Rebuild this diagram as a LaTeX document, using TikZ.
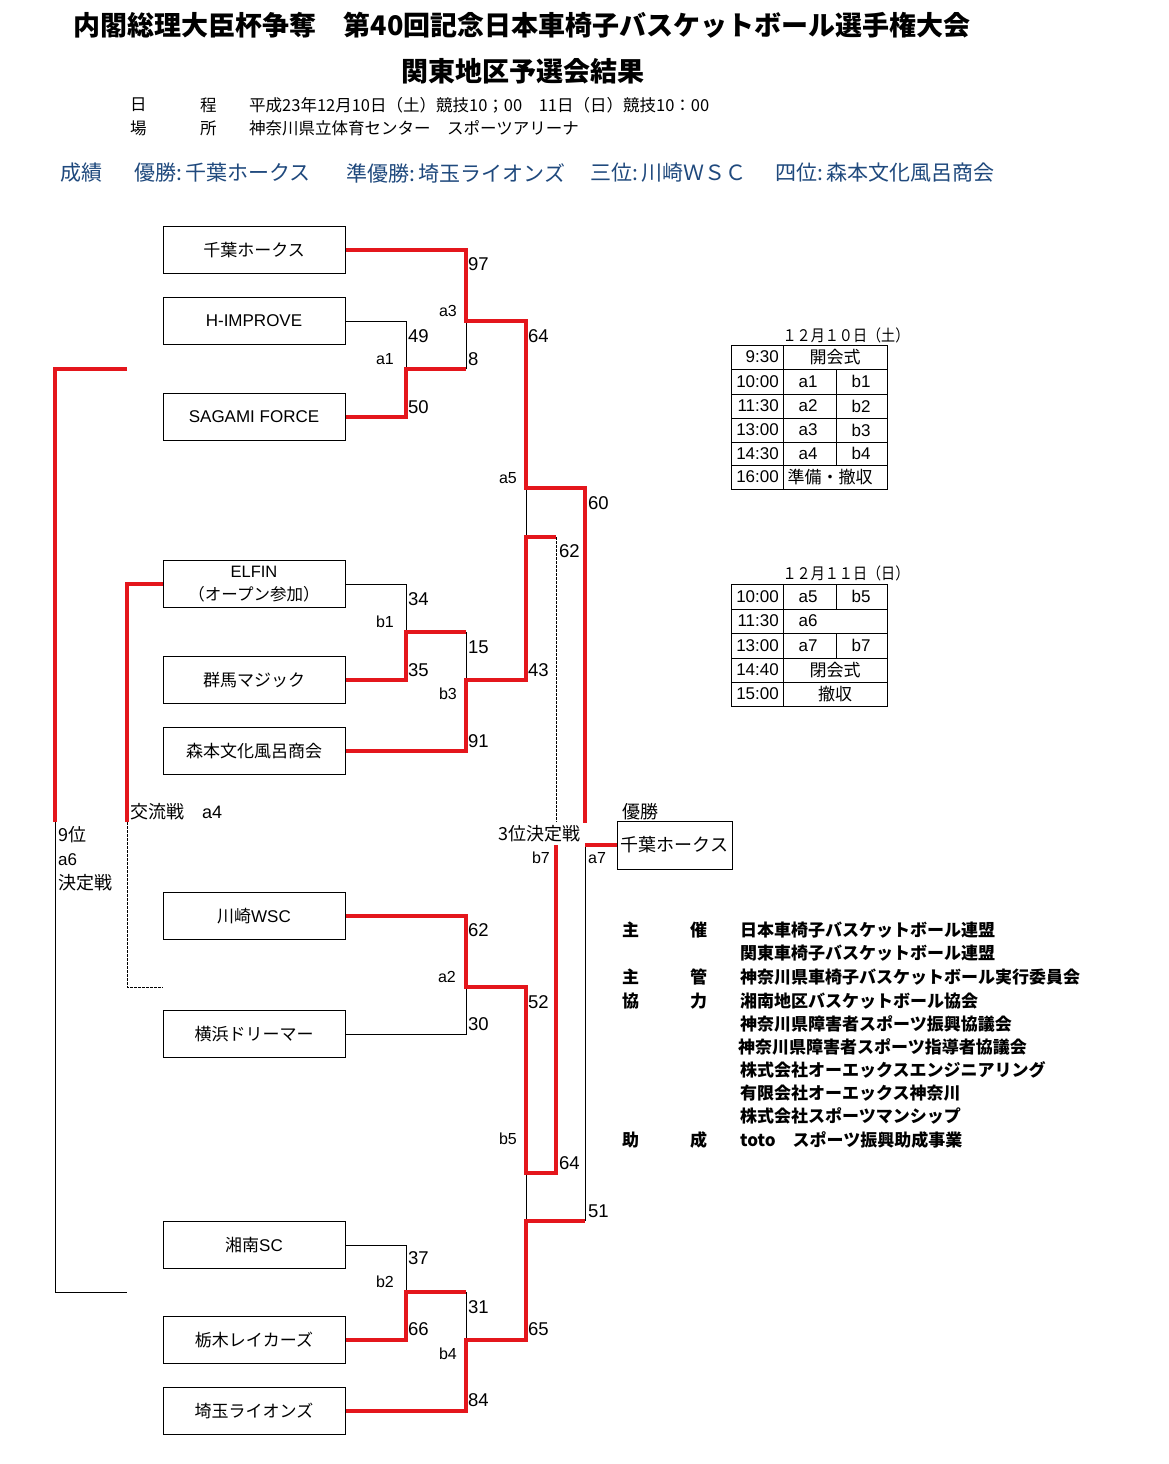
\documentclass[tikz,border=0pt]{standalone}
\usepackage{graphicx}
\usepackage{fontspec}
\setmainfont{Noto Sans CJK JP}
\newfontfamily\lat{Liberation Sans}
\definecolor{rd}{RGB}{228,22,28}
\definecolor{bl}{RGB}{31,73,125}
\newcommand{\fsz}[1]{\fontsize{#1}{#1}\selectfont}
\begin{document}
\begin{tikzpicture}[x=1pt,y=-1pt,
  team/.style={draw, line width=1pt, minimum width=182pt, minimum height=47pt, inner sep=0pt, font=\fsz{17}, align=center},
  win/.style={draw=rd, line width=3.5pt},
  lose/.style={draw=black, line width=0.9pt},
  dline/.style={draw=black, line width=0.8pt, dash pattern=on 2.5pt off 1.5pt},
  score/.style={anchor=west, inner sep=0pt, font=\lat\fsz{18.5}},
  mlab/.style={anchor=east, inner sep=0pt, font=\lat\fsz{16}},
  mlabl/.style={anchor=west, inner sep=0pt, font=\lat\fsz{16}},
  txt/.style={anchor=west, inner sep=0pt},
  info/.style={anchor=west, inner sep=0pt, font=\fsz{16.5}},
  res/.style={anchor=west, inner sep=0pt, font=\fsz{21}, text=bl},
  cred/.style={anchor=west, inner sep=0pt, font=\bfseries\fsz{17}},
  tcell/.style={inner sep=0pt, font=\lat\fsz{17}},
  jcell/.style={inner sep=0pt, font=\fsz{17}},
  grid/.style={draw=black, line width=0.9pt}
]
\useasboundingbox (0,0) rectangle (1168,1464);
\fill[white] (0,0) rectangle (1168,1464);

% ---------- titles ----------
\node[font=\bfseries\fsz{27}, inner sep=0pt] (title1) at (522,25) {内閣総理大臣杯争奪　第40回記念日本車椅子バスケットボール選手権大会};
\node[font=\bfseries\fsz{27}, inner sep=0pt] (title2) at (523,71) {関東地区予選会結果};

\node[info] (i1) at (130,105) {日};
\node[info] (i2) at (200,105) {程};
\node[info] (i3) at (249,105) {平成23年12月10日（土）競技10；00　11日（日）競技10：00};
\node[info] (i4) at (130,128) {場};
\node[info] (i5) at (200,128) {所};
\node[info] (i6) at (249,128) {神奈川県立体育センター　スポーツアリーナ};

\node[res] (r1) at (60,173) {成績};
\node[res] (r2) at (134,173) {優勝:\,千葉ホークス};
\node[res] (r3) at (346,173) {準優勝:\,埼玉ライオンズ};
\node[res] (r4) at (590,173) {三位:\,川崎ＷＳＣ};
\node[res] (r5) at (775,173) {四位:\,森本文化風呂商会};

% ---------- team boxes ----------
\node[team] (chiba) at (254,250) {千葉ホークス};
\node[team] (himp) at (254,321) {\lat H-IMPROVE};
\node[team] (sagami) at (254,417) {\lat SAGAMI FORCE};
\node[team, font=\fontsize{16.5}{23}\selectfont] (elfin) at (254,584) {{\lat ELFIN}\\（オープン参加）};
\node[team] (gunma) at (254,680) {群馬マジック};
\node[team] (morimoto) at (254,751) {森本文化風呂商会};
\node[team] (kawasaki) at (254,916) {川崎{\lat WSC}};
\node[team] (yokohama) at (254,1034) {横浜ドリーマー};
\node[team] (shonan) at (254,1245) {湘南{\lat SC}};
\node[team] (tochigi) at (254,1340) {栃木レイカーズ};
\node[team] (saitama) at (254,1411) {埼玉ライオンズ};
\node[team, minimum width=115pt, minimum height=48pt, font=\fsz{18}] (champ) at (674.5,845) {千葉ホークス};

% ---------- junctions ----------
\coordinate (A1) at (406,369);
\coordinate (A3) at (466,321);
\coordinate (A5) at (526,488);
\coordinate (A5b) at (526,537);
\coordinate (B1) at (406,632);
\coordinate (B3) at (466,680);
\coordinate (B7t) at (556,537);
\coordinate (B7u) at (556,822);
\coordinate (B7) at (556,845);
\coordinate (A7t) at (585,823);
\coordinate (A7) at (585,845);
\coordinate (A7b) at (585,1221);
\coordinate (A2) at (466,987);
\coordinate (B5) at (526,1173);
\coordinate (B5b) at (526,1221);
\coordinate (B2) at (406,1292);
\coordinate (B4) at (466,1340);
\coordinate (L1) at (127,369);
\coordinate (L2) at (55,369);
\coordinate (L3) at (55,822);
\coordinate (L4) at (55,1292);
\coordinate (L5) at (127,1292);
\coordinate (E1) at (127,822);
\coordinate (E2) at (127,987);
\coordinate (E3) at (163,987);

% ---------- thin (losing) lines ----------
\draw[lose] (himp.east) -| (A1);
\draw[lose] (A3) -- (A1 -| A3);
\draw[lose] (A5) -- (A5b);
\draw[lose] (elfin.east) -| (B1);
\draw[lose] (B3) -- (B1 -| B3);
\draw[lose] (yokohama.east) -| (A2);
\draw[lose] (B5) -- (B5b);
\draw[lose] (A7) -- (A7b);
\draw[lose] (shonan.east) -| (B2);
\draw[lose] (B4) -- (B2 -| B4);
\draw[lose] (L3) -- (L4) -- (L5);
\draw[dline] (B7t) -- (B7u);
\draw[dline] (E1) -- (E2) -- (E3);

% ---------- winning (red) lines ----------
\draw[win] (chiba.east) -| (A3) -| (A5) -| (A7t);
\draw[win] (sagami.east) -| (A1) -- (A1 -| A3);
\draw[win] (gunma.east) -| (B1) -- (B1 -| B3);
\draw[win] (morimoto.east) -| (B3) -| (A5b) -- (B7t);
\draw[win] (A7) -- (champ.west);
\draw[win] (kawasaki.east) -| (A2) -| (B5) -| (B7);
\draw[win] (tochigi.east) -| (B2) -- (B2 -| B4);
\draw[win] (saitama.east) -| (B4) -| (B5b) -- (A7b);
\draw[win] (L1) -- (L2) -- (L3);
\draw[win] (elfin.west) -| (E1);

% ---------- scores & match labels ----------
\node[score] (s97) at (468,264) {97};
\node[mlab] (ma3) at (457,311) {a3};
\node[score] (s49) at (408,336) {49};
\node[mlab] (ma1) at (394,359) {a1};
\node[score] (s8) at (468,359) {8};
\node[score] (s50) at (408,407) {50};
\node[score] (s64a) at (528,336) {64};
\node[mlab] (ma5) at (517,478) {a5};
\node[score] (s60) at (588,503) {60};
\node[score] (s62a) at (559,551) {62};
\node[score] (s34) at (408,599) {34};
\node[mlab] (mb1) at (394,622) {b1};
\node[score] (s15) at (468,647) {15};
\node[score] (s35) at (408,670) {35};
\node[score] (s43) at (528,670) {43};
\node[mlab] (mb3) at (457,694) {b3};
\node[score] (s91) at (468,741) {91};
\node[score] (s62b) at (468,930) {62};
\node[mlab] (ma2) at (456,977) {a2};
\node[score] (s52) at (528,1002) {52};
\node[score] (s30) at (468,1024) {30};
\node[mlab] (mb5) at (517,1139) {b5};
\node[score] (s64b) at (559,1163) {64};
\node[score] (s51) at (588,1211) {51};
\node[score] (s37) at (408,1258) {37};
\node[mlab] (mb2) at (394,1282) {b2};
\node[score] (s31) at (468,1307) {31};
\node[score] (s66) at (408,1329) {66};
\node[score] (s65) at (528,1329) {65};
\node[mlab] (mb4) at (457,1354) {b4};
\node[score] (s84) at (468,1400) {84};

\node[txt, font=\fsz{18}] (kor) at (130,812) {交流戦　{\lat a4}};
\node[txt, font=\fsz{18}] (n9a) at (58,835) {9位};
\node[txt, font=\lat\fsz{17}] (n9b) at (58,860) {a6};
\node[txt, font=\fsz{18}] (n9c) at (58,883) {決定戦};
\node[txt, font=\fsz{18}] (th3) at (498,834) {3位決定戦};
\node[txt, font=\fsz{18}] (yus) at (622,812) {優勝};
\node[mlab] (mb7) at (550,858) {b7};
\node[mlabl] (ma7) at (588,858) {a7};

% ---------- schedule table 1 ----------
\node[inner sep=0pt, font=\fsz{16}] (d10) at (846,335) {\scalebox{0.88}[1]{１２月１０日（土）}};
\draw[grid] (731,345) rectangle (887,489);
\foreach \yy in {369,394,418,442,465} \draw[grid] (731,\yy) -- (887,\yy);
\draw[grid] (783,345) -- (783,489);
\draw[grid] (836,369) -- (836,465);
\node[tcell, anchor=east] (t1a) at (779,357) {9:30};
\node[jcell] (t1b) at (835,357) {開会式};
\node[tcell, anchor=east] (t2a) at (779,381.5) {10:00};
\node[tcell] (t2b) at (808,381.5) {a1};
\node[tcell] (t2c) at (861,381.5) {b1};
\node[tcell, anchor=east] (t3a) at (779,406) {11:30};
\node[tcell] (t3b) at (808,406) {a2};
\node[tcell] (t3c) at (861,406) {b2};
\node[tcell, anchor=east] (t4a) at (779,430) {13:00};
\node[tcell] (t4b) at (808,430) {a3};
\node[tcell] (t4c) at (861,430) {b3};
\node[tcell, anchor=east] (t5a) at (779,453.5) {14:30};
\node[tcell] (t5b) at (808,453.5) {a4};
\node[tcell] (t5c) at (861,453.5) {b4};
\node[tcell, anchor=east] (t6a) at (779,477) {16:00};
\node[jcell] (t6b) at (830,477) {準備・撤収};

% ---------- schedule table 2 ----------
\node[inner sep=0pt, font=\fsz{16}] (d11) at (846,573) {\scalebox{0.88}[1]{１２月１１日（日）}};
\draw[grid] (731,584) rectangle (887,706);
\foreach \yy in {609,633,658,682} \draw[grid] (731,\yy) -- (887,\yy);
\draw[grid] (783,584) -- (783,706);
\draw[grid] (836,584) -- (836,609);
\draw[grid] (836,633) -- (836,658);
\node[tcell, anchor=east] (u1a) at (779,596.5) {10:00};
\node[tcell] (u1b) at (808,596.5) {a5};
\node[tcell] (u1c) at (861,596.5) {b5};
\node[tcell, anchor=east] (u2a) at (779,621) {11:30};
\node[tcell] (u2b) at (808,621) {a6};
\node[tcell, anchor=east] (u3a) at (779,645.5) {13:00};
\node[tcell] (u3b) at (808,645.5) {a7};
\node[tcell] (u3c) at (861,645.5) {b7};
\node[tcell, anchor=east] (u4a) at (779,670) {14:40};
\node[jcell] (u4b) at (835,670) {閉会式};
\node[tcell, anchor=east] (u5a) at (779,694) {15:00};
\node[jcell] (u5b) at (835,694) {撤収};

% ---------- credits ----------
\node[cred] (c1a) at (622,930) {主};
\node[cred] (c1b) at (690,930) {催};
\node[cred] (c1c) at (740,930) {日本車椅子バスケットボール連盟};
\node[cred] (c2c) at (740,953) {関東車椅子バスケットボール連盟};
\node[cred] (c3a) at (622,977) {主};
\node[cred] (c3b) at (690,977) {管};
\node[cred] (c3c) at (740,977) {神奈川県車椅子バスケットボール実行委員会};
\node[cred] (c4a) at (622,1001) {協};
\node[cred] (c4b) at (690,1001) {力};
\node[cred] (c4c) at (740,1001) {湘南地区バスケットボール協会};
\node[cred] (c5c) at (740,1024) {神奈川県障害者スポーツ振興協議会};
\node[cred] (c6c) at (738,1047) {神奈川県障害者スポーツ指導者協議会};
\node[cred] (c7c) at (740,1070) {株式会社オーエックスエンジニアリング};
\node[cred] (c8c) at (740,1093) {有限会社オーエックス神奈川};
\node[cred] (c9c) at (740,1116) {株式会社スポーツマンシップ};
\node[cred] (c10a) at (622,1140) {助};
\node[cred] (c10b) at (690,1140) {成};
\node[cred] (c10c) at (740,1140) {toto　スポーツ振興助成事業};
\end{tikzpicture}
\end{document}
